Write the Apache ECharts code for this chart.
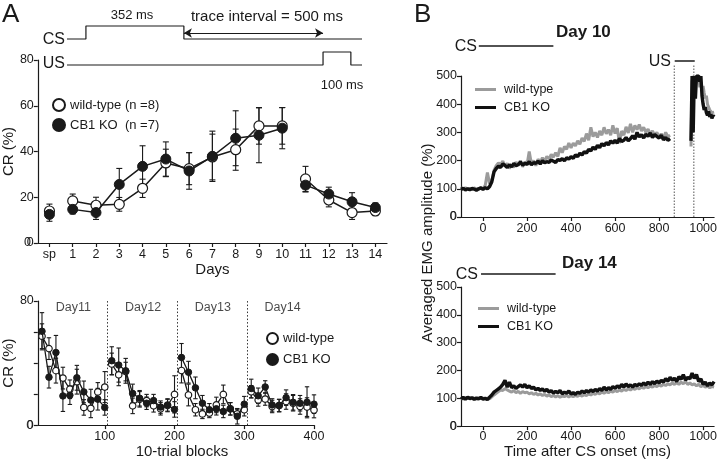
<!DOCTYPE html>
<html><head><meta charset="utf-8">
<script src="https://cdn.jsdelivr.net/npm/echarts@6/dist/echarts.min.js"></script>
<style>html,body{margin:0;padding:0;background:#fff}#c{width:720px;height:460px}</style>
</head><body><div id="c"></div>
<script>
// ---------- Panel A (top): CR per day ----------
const cats = ['sp','1','2','3','4','5','6','7','8','9','10','11','12','13','14'];
const wtCR  = [14, 18.4, 16.5, 16.9, 23.9, 35, 32.5, 37.6, 40.8, 51.2, 51.2, 28, 18.8, 13.3, 14];
const koCR  = [12.5, 14.7, 13.3, 25.6, 33.5, 36.7, 31.5, 37.9, 45.8, 47.1, 50.2, 25.3, 21.4, 18, 15.5];
const wtErr = [3, 3, 3.5, 3, 4, 6, 7, 10, 9, 8, 8, 5.5, 3, 3, 2];
const koErr = [3, 2, 3, 7, 9, 7.5, 8, 11, 12, 12, 9, 3, 3, 4, 2];
const crTicks = [0, 20, 40, 60, 80];

// ---------- Panel A (bottom): 10-trial blocks ----------
const wtBlk = [57.3, 49.3, 35.1, 30.3, 23.1, 28, 11.4, 10.8, 21.4, 24.5,
               39.4, 32.4, 34.5, 12.4, 16.6, 15.8, 12.4, 10.5, 12.6, 19.8,
               35.2, 19.4, 9.9, 7.2, 7.8, 13, 19.8, 10.5, 7.2, 9.9,
               21.5, 16.2, 16.8, 12, 12.6, 15.2, 14.1, 12, 11.6, 9.7];
const koBlk = [60.5, 30.9, 46.8, 18.8, 19.3, 30.5, 21.4, 16.1, 16.7, 11.4,
               41.5, 38.7, 35, 20.4, 17.3, 14.1, 15.8, 11.6, 13, 10.1,
               43.6, 34.1, 24, 14.1, 9.9, 10.5, 8.8, 10.5, 5.7, 13.5,
               23.6, 18.9, 24.6, 13, 12.6, 17.7, 14.7, 14.1, 14.7, 13.5];
const wtErrBlk = [8, 7, 8, 7, 6, 8, 5, 6, 6, 10, 7, 7, 6, 5, 5, 4, 4, 4, 4, 12,
                  8, 7, 4, 3, 3, 5, 6, 4, 3, 4, 4, 4, 4, 4, 4, 5, 5, 5, 6, 5];
const koErrBlk = [12, 7, 11, 10, 6, 8, 7, 7, 7, 5, 9, 11, 8, 6, 5, 4, 4, 4, 4, 5,
                  9, 7, 7, 5, 4, 4, 4, 4, 5, 5, 6, 5, 4, 4, 4, 5, 5, 5, 10, 6];
const dayNames = ['Day11','Day12','Day13','Day14'];
const dayCenters = [55, 155, 255, 355];
const dayBounds = [104, 204, 305];
const blockTicks = [100, 200, 300, 400];
const blkYLabels = [0, 80];

// ---------- Timing (ms) ----------
const csDur = 352, traceInt = 500, usDur = 100;

// ---------- Panel B: averaged EMG amplitude (%) ----------
const wt10 = [103,99,104,98,102,97,103,100,98,104,
  100,112,158,118,130,165,182,192,186,198,
  180,190,172,185,176,195,182,200,178,196,
  185,232,188,200,182,205,194,210,198,215,
  205,222,212,228,215,245,228,250,240,262,
  245,262,252,270,258,280,268,296,272,318,
  285,300,282,305,290,318,295,310,290,325,
  296,315,262,305,290,320,298,330,300,325,
  310,328,305,318,300,312,295,305,290,300,
  285,295,280,300,285,290];
const ko10 = [98,102,96,100,97,101,99,95,100,103,
  98,104,100,108,125,160,172,180,176,188,
  183,176,185,178,190,182,186,195,184,190,
  187,196,185,193,190,198,188,200,192,196,
  194,202,198,193,204,200,207,199,210,205,
  214,208,220,214,226,220,232,226,240,234,
  248,240,254,246,260,252,264,256,270,262,
  272,262,278,268,272,282,270,278,288,276,
  300,284,292,280,294,286,298,282,292,286,
  280,290,274,282,272,278];
const tPost = [945,950,955,960,965,970,975,980,985,990,995,1000,1005,1010,1015,1020,1025,1030,1035,1040,1045,1050];
const wtPost = [250,480,500,500,470,500,490,500,460,480,450,465,440,420,430,400,395,380,385,370,375,372];
const koPost = [270,500,300,500,420,500,500,500,480,500,430,400,380,390,370,360,375,355,365,350,360,355];
const wt14 = [100,97,102,99,103,98,101,97,102,99,
  101,97,100,98,105,112,118,124,130,128,
  135,130,126,122,128,120,125,118,124,120,
  122,116,120,114,118,112,116,110,114,108,
  112,106,110,105,109,104,108,106,110,105,
  109,106,110,107,112,108,113,110,115,112,
  118,114,120,116,122,118,124,120,126,122,
  128,124,130,126,132,128,134,130,136,132,
  138,134,140,136,142,138,144,140,146,142,
  148,144,150,146,152,148,155,150,156,150,
  158,152,160,150,155,148,152,145,150,142,
  146,140,144,138,142,140];
const ko14 = [98,103,97,104,99,102,96,101,98,103,
  97,100,95,104,112,122,128,134,140,150,
  165,140,158,138,145,135,142,148,140,150,
  138,145,135,140,130,136,128,134,125,132,
  122,128,118,125,120,128,116,122,118,126,
  115,120,114,122,118,126,120,128,122,130,
  124,132,126,135,128,140,130,138,132,142,
  136,145,138,150,140,152,142,148,140,150,
  145,152,146,155,148,158,150,160,152,162,
  155,165,158,170,162,175,165,172,160,178,
  168,185,165,175,170,190,172,185,160,170,
  150,158,145,155,148,160];
const emgTicks = [0, 200, 400, 600, 800, 1000];
const emgYTicks = [0, 100, 200, 300, 400, 500];
const csBar10 = [-20, 315], usBar10 = [860, 950], blank10 = [858, 946];
const csBar14 = [-10, 325];

// ---------- build ----------
const FONT = '"Liberation Sans", Arial, Helvetica, sans-serif';
const INK = '#1a1a1a';
const t10 = []; for (let t = -100; t <= 850; t += 10) t10.push(t);
const t14 = []; for (let t = -100; t <= 1050; t += 10) t14.push(t);
const blocks = wtBlk.map((_, i) => (i + 1) * 10);
const zip = (xs, ys) => xs.map((x, i) => [x, ys[i]]);
const seg = (arr, a, b) => arr.map((v, i) => (i >= a && i <= b) ? v : null);

const axLine = {show: true, onZero: false, lineStyle: {color: INK, width: 1.2}};
const axTick = {show: true, length: 4, lineStyle: {color: INK, width: 1.2}};
const axLab = {color: INK, fontSize: 12.5, fontFamily: FONT, showMinLabel: true, showMaxLabel: true};
const nameTS = {color: INK, fontSize: 15, fontFamily: FONT};
const plainNum = v => String(Math.round(v));

function errRender(cap) {
  return function (params, api) {
    const x = api.value(0), lo = api.value(1), hi = api.value(2);
    const a = api.coord([x, hi]), b = api.coord([x, lo]);
    const st = {stroke: INK, lineWidth: 1.1};
    return {type: 'group', children: [
      {type: 'line', shape: {x1: a[0], y1: a[1], x2: b[0], y2: b[1]}, style: st},
      {type: 'line', shape: {x1: a[0] - cap, y1: a[1], x2: a[0] + cap, y2: a[1]}, style: st},
      {type: 'line', shape: {x1: b[0] - cap, y1: b[1], x2: b[0] + cap, y2: b[1]}, style: st}
    ]};
  };
}

const hiddenX = (g, min, max) => ({type: 'value', gridIndex: g, min, max, show: false});
const hiddenY = (g) => ({type: 'value', gridIndex: g, min: 0, max: 1, show: false});

const series = [];
const wtStyle = {color: '#fff', borderColor: INK, borderWidth: 1.2};
const koStyle = {color: INK, borderColor: INK, borderWidth: 1};

// timing diagram
series.push({type: 'line', xAxisIndex: 0, yAxisIndex: 0, symbol: 'none', silent: true,
  lineStyle: {color: INK, width: 1.2},
  data: [[-68, 0.62], [0, 0.62], [0, 0.88], [csDur, 0.88], [csDur, 0.62], [992, 0.62]],
  markLine: {silent: true, symbol: ['arrow', 'arrow'], symbolSize: [7, 8], label: {show: false},
    lineStyle: {color: INK, width: 1, type: 'solid'},
    data: [[{coord: [csDur, 0.74]}, {coord: [csDur + traceInt, 0.74]}]]}});
series.push({type: 'line', xAxisIndex: 0, yAxisIndex: 0, symbol: 'none', silent: true,
  lineStyle: {color: INK, width: 1.2},
  data: [[-68, 0.1], [csDur + traceInt, 0.1], [csDur + traceInt, 0.36], [csDur + traceInt + usDur, 0.36],
         [csDur + traceInt + usDur, 0.1], [992, 0.1]]});

// A top
const topSegs = [[0, 0], [1, 10], [11, 14]];
series.push({type: 'custom', xAxisIndex: 1, yAxisIndex: 1, z: 1, silent: true, renderItem: errRender(3),
  encode: {x: 0, y: [1, 2]}, data: cats.map((c, i) => [i, wtCR[i] - wtErr[i], wtCR[i] + wtErr[i]])});
series.push({type: 'custom', xAxisIndex: 1, yAxisIndex: 1, z: 1, silent: true, renderItem: errRender(3),
  encode: {x: 0, y: [1, 2]}, data: cats.map((c, i) => [i, koCR[i] - koErr[i], koCR[i] + koErr[i]])});
topSegs.forEach(([a, b]) => {
  series.push({type: 'line', name: 'wild-type (n =8)', xAxisIndex: 1, yAxisIndex: 1, z: 3,
    data: seg(wtCR, a, b), symbol: 'circle', symbolSize: 10, showSymbol: true,
    itemStyle: wtStyle, lineStyle: {color: INK, width: 1.5}, connectNulls: false});
});
topSegs.forEach(([a, b]) => {
  series.push({type: 'line', name: 'CB1 KO  (n =7)', xAxisIndex: 1, yAxisIndex: 1, z: 4,
    data: seg(koCR, a, b), symbol: 'circle', symbolSize: 10, showSymbol: true,
    itemStyle: koStyle, lineStyle: {color: INK, width: 1.5}, connectNulls: false});
});

// A bottom
series.push({type: 'custom', xAxisIndex: 2, yAxisIndex: 2, z: 1, silent: true, renderItem: errRender(2.2),
  encode: {x: 0, y: [1, 2]}, data: blocks.map((x, i) => [x, Math.max(0, wtBlk[i] - wtErrBlk[i]), wtBlk[i] + wtErrBlk[i]])});
series.push({type: 'custom', xAxisIndex: 2, yAxisIndex: 2, z: 1, silent: true, renderItem: errRender(2.2),
  encode: {x: 0, y: [1, 2]}, data: blocks.map((x, i) => [x, Math.max(0, koBlk[i] - koErrBlk[i]), koBlk[i] + koErrBlk[i]])});
for (let d = 0; d < 4; d++) {
  const a = d * 10, b = d * 10 + 9;
  series.push({type: 'line', name: 'wild-type', xAxisIndex: 2, yAxisIndex: 2, z: 3,
    data: blocks.slice(a, b + 1).map((x, k) => [x, wtBlk[a + k]]), symbol: 'circle', symbolSize: 6.5,
    itemStyle: wtStyle, lineStyle: {color: INK, width: 1.3}});
}
for (let d = 0; d < 4; d++) {
  const a = d * 10, b = d * 10 + 9;
  const s = {type: 'line', name: 'CB1 KO', xAxisIndex: 2, yAxisIndex: 2, z: 4,
    data: blocks.slice(a, b + 1).map((x, k) => [x, koBlk[a + k]]), symbol: 'circle', symbolSize: 6.5,
    itemStyle: koStyle, lineStyle: {color: INK, width: 1.3}};
  if (d === 0) s.markLine = {silent: true, symbol: 'none', label: {show: false},
    lineStyle: {color: '#333', width: 1, type: [1.5, 2]}, data: dayBounds.map(v => ({xAxis: v}))};
  series.push(s);
}
series.push({type: 'scatter', xAxisIndex: 2, yAxisIndex: 2, symbolSize: 0, silent: true,
  data: dayNames.map((n, i) => ({value: [dayCenters[i], 76], name: n})),
  label: {show: true, position: 'inside', formatter: p => p.name, color: INK, fontSize: 12.5, fontFamily: FONT}});

// B top annotations
series.push({type: 'line', xAxisIndex: 3, yAxisIndex: 3, symbol: 'none', silent: true,
  lineStyle: {color: INK, width: 1.6}, data: [[csBar10[0], 0.966], [csBar10[1], 0.966]]});
series.push({type: 'line', xAxisIndex: 3, yAxisIndex: 3, symbol: 'none', silent: true,
  lineStyle: {color: INK, width: 1.6}, data: [[usBar10[0], 0.881], [usBar10[1], 0.881]]});
blank10.forEach(v => series.push({type: 'line', xAxisIndex: 3, yAxisIndex: 3, symbol: 'none', silent: true,
  lineStyle: {color: '#555', width: 1, type: [1.5, 1.5]}, data: [[v, 0], [v, 0.859]]}));

// B top traces
const bLine = (name, x, y, xs, ys, color, w) => ({type: 'line', name, xAxisIndex: x, yAxisIndex: y,
  data: zip(xs, ys), symbol: 'none', color, lineStyle: {color, width: w}, silent: true});
series.push(bLine('wild-type ', 4, 4, t10, wt10, '#9b9b9b', 3));
series.push(bLine('wild-type ', 4, 4, tPost, wtPost, '#9b9b9b', 3));
series.push(bLine('CB1 KO ', 4, 4, t10, ko10, '#111', 3.4));
series.push(bLine('CB1 KO ', 4, 4, tPost, koPost, '#111', 3.4));

// B bottom annotations
series.push({type: 'line', xAxisIndex: 5, yAxisIndex: 5, symbol: 'none', silent: true,
  lineStyle: {color: INK, width: 1.6}, data: [[csBar14[0], 0.944], [csBar14[1], 0.944]]});
series.push(bLine('wild-type ', 6, 6, t14, wt14, '#9b9b9b', 3));
series.push(bLine('CB1 KO ', 6, 6, t14, ko14, '#111', 3.4));

// origin "0" labels (ECharts v6 suppresses the axis-corner label) drawn as point labels at the axis origin
const originLabel = (xi, yi, xMin) => ({type: 'scatter', xAxisIndex: xi, yAxisIndex: yi, silent: true, z: 20,
  clip: false, symbolSize: 1, itemStyle: {color: 'rgba(0,0,0,0)'}, data: [[xMin, 0]],
  label: {show: true, position: 'left', distance: 4, formatter: '0', color: INK, fontSize: 12.5, fontFamily: FONT},
  labelLayout: {hideOverlap: false}});
series.push(originLabel(2, 2, 4));
series.push(originLabel(4, 4, -100));
series.push(originLabel(6, 6, -100));

let gid = 0;
const txt = (text, x, y, size, align, extra) => Object.assign({type: 'text', id: 'txt' + (gid++), x, y, z: 50, silent: true,
  style: {text, font: size + 'px ' + FONT, fill: INK, textAlign: align || 'center', textVerticalAlign: 'middle'}}, extra || {});

const bLegend = (top, left) => ({data: ['wild-type ', 'CB1 KO '], orient: 'vertical', left, top, icon: 'rect',
  itemWidth: 21, itemHeight: 3, itemGap: 5, selectedMode: false,
  textStyle: {fontSize: 12.5, color: INK, fontFamily: FONT, padding: [0, 0, 0, 3]}});

const valY = (g, max, ticks, labels, extra) => Object.assign({type: 'value', gridIndex: g, min: 0, max,
  axisLine: axLine, splitLine: {show: false},
  axisTick: Object.assign({customValues: ticks}, axTick),
  axisLabel: Object.assign({margin: 4, customValues: labels, formatter: plainNum}, axLab)}, extra || {});

const option = {
  animation: false,
  backgroundColor: '#fff',
  textStyle: {fontFamily: FONT, color: INK},
  title: [
    {text: 'Day 10', left: 551, top: 19, textStyle: {fontSize: 17, fontWeight: 'bold', color: INK, fontFamily: FONT}},
    {text: 'Day 14', left: 557, top: 250, textStyle: {fontSize: 17, fontWeight: 'bold', color: INK, fontFamily: FONT}}
  ],
  legend: [
    {data: ['wild-type (n =8)', 'CB1 KO  (n =7)'], orient: 'vertical', left: 47, top: 93, icon: 'circle',
     itemWidth: 12, itemHeight: 12, itemGap: 6, selectedMode: false, textStyle: {fontSize: 13, color: INK, fontFamily: FONT}},
    {data: ['wild-type', 'CB1 KO'], orient: 'vertical', left: 261, top: 327, icon: 'circle',
     itemWidth: 11, itemHeight: 11, itemGap: 8, selectedMode: false, textStyle: {fontSize: 13, color: INK, fontFamily: FONT}},
    bLegend(78, 470),
    bLegend(297, 473)
  ],
  grid: [
    {left: 67, top: 20, width: 295, height: 50},
    {left: 35, top: 60, width: 352, height: 183},
    {left: 35, top: 301, width: 279, height: 126},
    {left: 461, top: 40, width: 256, height: 177},
    {left: 461, top: 76, width: 256, height: 141},
    {left: 461, top: 265, width: 256, height: 162},
    {left: 461, top: 287, width: 256, height: 140}
  ],
  xAxis: [
    hiddenX(0, -68, 992),
    {type: 'category', gridIndex: 1, data: cats, boundaryGap: true, axisLine: axLine,
     axisTick: Object.assign({alignWithLabel: true, interval: 0}, axTick),
     axisLabel: Object.assign({interval: 0, margin: 5}, axLab),
     name: 'Days', nameLocation: 'middle', nameGap: 15, nameTextStyle: nameTS},
    {type: 'value', gridIndex: 2, min: 4, max: 400, axisLine: axLine, splitLine: {show: false},
     axisTick: Object.assign({customValues: blockTicks}, axTick),
     axisLabel: Object.assign({customValues: blockTicks, margin: 5, formatter: plainNum}, axLab),
     name: '10-trial blocks', nameLocation: 'middle', nameGap: 17, nameTextStyle: Object.assign({padding: [0, 0, 0, 12]}, nameTS)},
    hiddenX(3, -100, 1050),
    {type: 'value', gridIndex: 4, min: -100, max: 1050, axisLine: axLine, splitLine: {show: false},
     axisTick: Object.assign({customValues: emgTicks}, axTick),
     axisLabel: Object.assign({customValues: emgTicks, margin: 5, formatter: plainNum}, axLab)},
    hiddenX(5, -100, 1050),
    {type: 'value', gridIndex: 6, min: -100, max: 1050, axisLine: axLine, splitLine: {show: false},
     axisTick: Object.assign({customValues: emgTicks}, axTick),
     axisLabel: Object.assign({customValues: emgTicks, margin: 4, formatter: plainNum}, axLab),
     name: 'Time after CS onset (ms)', nameLocation: 'middle', nameGap: 15, nameTextStyle: nameTS}
  ],
  yAxis: [
    hiddenY(0),
    valY(1, 80, crTicks, crTicks, {name: 'CR (%)', nameLocation: 'middle', nameGap: 18, nameTextStyle: nameTS}),
    valY(2, 80, crTicks, blkYLabels, {name: 'CR (%)', nameLocation: 'middle', nameGap: 18, nameTextStyle: nameTS}),
    hiddenY(3),
    valY(4, 500, emgYTicks, emgYTicks),
    hiddenY(5),
    valY(6, 500, emgYTicks, emgYTicks)
  ],
  graphic: {elements: [
    txt('A', 2, 15, 26, 'left'),
    txt('B', 414, 15, 26, 'left'),
    txt('352 ms', 132, 15, 13),
    txt('trace interval = 500 ms', 267, 17, 15),
    txt('100 ms', 342, 85, 13),
    txt('CS', 65, 40, 16, 'right'),
    txt('US', 65, 64, 16, 'right'),
    txt('CS', 477, 47, 16, 'right'),
    txt('US', 671, 62, 16, 'right'),
    txt('CS', 478, 275, 16, 'right'),
    txt('0', 31, 243, 12.5, 'right'),
    txt('Averaged EMG amplitude (%)', 428, 243, 15, 'center', {rotation: Math.PI / 2})
  ]},
  series
};
const chart = echarts.init(document.getElementById('c'), null, {renderer: 'canvas'});
chart.setOption(option);
</script></body></html>
